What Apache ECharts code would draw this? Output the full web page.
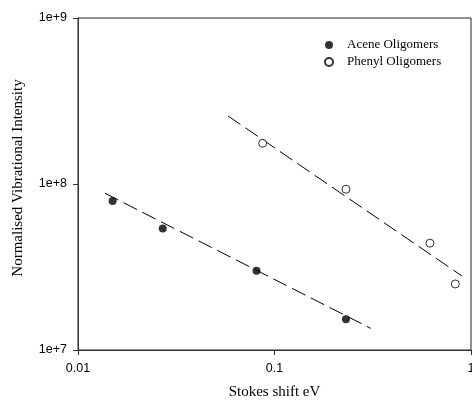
<!DOCTYPE html>
<html>
<head>
<meta charset="utf-8">
<script src="https://cdn.jsdelivr.net/npm/echarts@6/dist/echarts.min.js"></script>
<style>
  html, body { margin: 0; padding: 0; background: #fff; }
  #chart { width: 472px; height: 403px; }
</style>
</head>
<body>
<div id="chart"></div>
<script>
// values
const aceneX = [0.015, 0.027, 0.081, 0.231];
const aceneY = [7.9e7, 5.4e7, 3.0e7, 1.53e7];
const phenylX = [0.087, 0.231, 0.618, 0.832];
const phenylY = [1.76e8, 9.3e7, 4.4e7, 2.5e7];

// end points of the dashed fit lines
const aceneFitX = [0.0137, 0.309];
const aceneFitY = [8.8e7, 1.35e7];
const phenylFitX = [0.058, 0.9];
const phenylFitY = [2.57e8, 2.79e7];

const yTickLabels = ['1e+7', '1e+8', '1e+9'];

const pairs = (xs, ys) => xs.map((x, i) => [x, ys[i]]);

const myChart = echarts.init(document.getElementById('chart'));
const axisColor = '#333';
const option = {
  animation: false,
  grid: {
    left: 78,
    right: 1,
    top: 18,
    bottom: 53,
    outerBoundsMode: 'none',
    containLabel: false,
    show: true,
    borderColor: '#222',
    borderWidth: 1,
  },
  legend: {
    orient: 'vertical',
    left: 319,
    top: 33,
    itemWidth: 26,
    itemHeight: 8,
    itemGap: 3,
    data: ['Acene Oligomers', 'Phenyl Oligomers'],
    textStyle: {
      fontFamily: 'Liberation Serif',
      fontSize: 13,
      lineHeight: 14,
      color: '#000',
    },
  },
  xAxis: {
    type: 'log',
    logBase: 10,
    min: 0.01,
    max: 1,
    name: 'Stokes shift eV',
    nameLocation: 'middle',
    nameGap: 35,
    nameTextStyle: { fontFamily: 'Liberation Serif', fontSize: 15, color: '#000' },
    axisLine: { lineStyle: { color: axisColor, width: 1 } },
    axisTick: { show: true, length: 5, lineStyle: { color: axisColor } },
    minorTick: { show: false },
    splitLine: { show: false },
    axisLabel: {
      margin: 12,
      fontFamily: 'Liberation Sans',
      fontSize: 12.5,
      color: '#000',
      showMaxLabel: true,
    },
  },
  yAxis: {
    type: 'log',
    logBase: 10,
    min: 1e7,
    max: 1e9,
    name: 'Normalised Vibrational Intensity',
    nameLocation: 'middle',
    nameGap: 52,
    nameTextStyle: {
      fontFamily: 'Liberation Serif',
      fontSize: 15,
      color: '#000',
      padding: [0, 0, 0, 12],
    },
    axisLine: { lineStyle: { color: axisColor, width: 1 } },
    axisTick: { show: true, length: 5, lineStyle: { color: axisColor } },
    minorTick: { show: false },
    splitLine: { show: false },
    axisLabel: {
      margin: 11,
      fontFamily: 'Liberation Sans',
      fontSize: 12.5,
      color: '#000',
      formatter(value) {
        const idx = Math.round(Math.log10(value)) - 7;
        return yTickLabels[idx] || '';
      },
    },
  },
  series: [
    {
      type: 'line',
      data: pairs(aceneFitX, aceneFitY),
      symbol: 'none',
      lineStyle: { color: '#000', width: 1, type: [15, 6] },
      z: 1,
    },
    {
      type: 'line',
      data: pairs(phenylFitX, phenylFitY),
      symbol: 'none',
      lineStyle: { color: '#000', width: 1, type: [15, 6] },
      z: 1,
    },
    {
      name: 'Acene Oligomers',
      type: 'scatter',
      data: pairs(aceneX, aceneY),
      symbol: 'circle',
      symbolSize: 8,
      itemStyle: { color: '#000' },
      z: 3,
    },
    {
      name: 'Phenyl Oligomers',
      type: 'scatter',
      data: pairs(phenylX, phenylY),
      symbol: 'circle',
      symbolSize: 8,
      itemStyle: { color: '#fff', borderColor: '#000', borderWidth: 1 },
      z: 3,
    },
  ],
};
myChart.setOption(option);
</script>
</body>
</html>
